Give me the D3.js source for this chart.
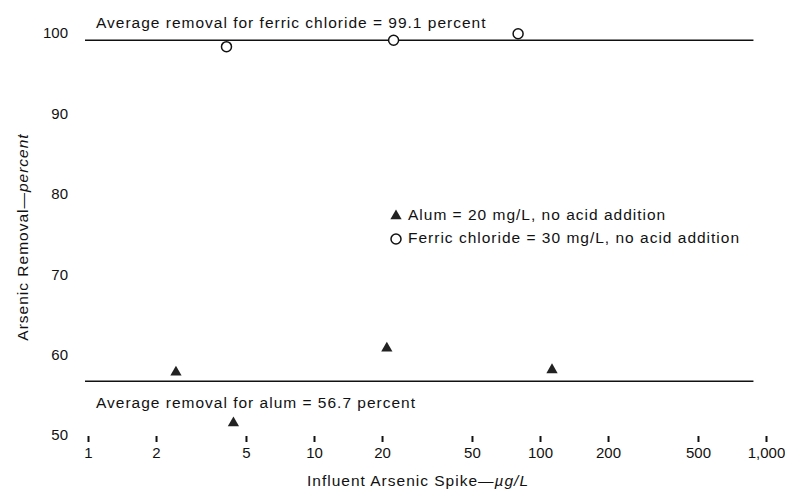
<!DOCTYPE html>
<html>
<head>
<meta charset="utf-8">
<script src="https://d3js.org/d3.v7.min.js"></script>
<style>
  body { margin: 0; background: #fff; }
  text { font-family: "Liberation Sans", Arial, sans-serif; fill: #111; }
  .note { font-size: 15.5px; letter-spacing: 1px; }
</style>
</head>
<body>
<div id="chart"></div>
<script>
// data
var alumSpike = [2.45, 4.4, 21, 113];
var alumRemoval = [57.8, 51.5, 60.8, 58.1];
var ferricSpike = [4.1, 22.5, 80];
var ferricRemoval = [98.3, 99.1, 99.9];
var avgAlum = 56.7, avgFerric = 99.1;
var xTicks = [1, 2, 5, 10, 20, 50, 100, 200, 500, 1000];
var yTicks = [50, 60, 70, 80, 90, 100];
var lineSpan = [0.97, 880];

var width = 785, height = 494;

var svg = d3.select("#chart").append("svg")
    .attr("width", width)
    .attr("height", height);

var x = d3.scaleLog().domain([1, 1000]).range([88, 766]);
var y = d3.scaleLinear().domain([50, 100]).range([435, 33]);

// x axis: ticks + labels only
var xAxis = svg.append("g")
    .attr("transform", "translate(0,436)")
    .call(d3.axisBottom(x).tickValues(xTicks).tickSize(6).tickPadding(5)
        .tickFormat(d3.format(",")));
xAxis.select(".domain").remove();
xAxis.selectAll("line").attr("stroke", "#111").attr("stroke-width", 2);
xAxis.selectAll("text").style("font-size", "15px").attr("font-family", null);

// y axis: labels only
var yAxis = svg.append("g")
    .attr("transform", "translate(68,0)")
    .call(d3.axisLeft(y).tickValues(yTicks).tickSize(0).tickPadding(0));
yAxis.select(".domain").remove();
yAxis.selectAll("text").style("font-size", "15px").attr("font-family", null);

// average lines
var avgs = [avgFerric, avgAlum];
svg.selectAll(".avg").data(avgs).enter().append("line")
    .attr("x1", x(lineSpan[0]))
    .attr("x2", x(lineSpan[1]))
    .attr("y1", function(d) { return y(d); })
    .attr("y2", function(d) { return y(d); })
    .attr("stroke", "#111")
    .attr("stroke-width", 1.5);

svg.append("text").attr("class", "note")
    .attr("x", 96).attr("y", y(avgFerric) - 12)
    .text("Average removal for ferric chloride = " + avgFerric + " percent");

svg.append("text").attr("class", "note")
    .attr("x", 96).attr("y", y(avgAlum) + 27)
    .text("Average removal for alum = " + avgAlum + " percent");

// points
var tri = d3.symbol().type(d3.symbolTriangle).size(55);
svg.selectAll(".alum").data(alumSpike).enter().append("path")
    .attr("d", tri)
    .attr("transform", function(d, i) {
        return "translate(" + x(d) + "," + y(alumRemoval[i]) + ")";
    })
    .attr("fill", "#222");

svg.selectAll(".ferric").data(ferricSpike).enter().append("circle")
    .attr("cx", function(d) { return x(d); })
    .attr("cy", function(d, i) { return y(ferricRemoval[i]); })
    .attr("r", 5)
    .attr("fill", "#fff")
    .attr("stroke", "#111")
    .attr("stroke-width", 1.5);

// legend
svg.append("path").attr("d", tri)
    .attr("transform", "translate(396,216)")
    .attr("fill", "#222");
svg.append("text").attr("class", "note").attr("x", 408).attr("y", 220)
    .text("Alum = 20 mg/L, no acid addition");
svg.append("circle").attr("cx", 396).attr("cy", 239).attr("r", 5)
    .attr("fill", "#fff").attr("stroke", "#111").attr("stroke-width", 1.5);
svg.append("text").attr("class", "note").attr("x", 408).attr("y", 243)
    .text("Ferric chloride = 30 mg/L, no acid addition");

// axis titles
var xt = svg.append("text").attr("class", "note")
    .attr("x", 418).attr("y", 486)
    .attr("text-anchor", "middle");
xt.append("tspan").text("Influent Arsenic Spike\u2014");
xt.append("tspan").style("font-style", "italic").text("\u00b5g/L");

var yt = svg.append("text").attr("class", "note")
    .attr("transform", "translate(28,237) rotate(-90)")
    .attr("text-anchor", "middle");
yt.append("tspan").text("Arsenic Removal\u2014");
yt.append("tspan").style("font-style", "italic").text("percent");
</script>
</body>
</html>
